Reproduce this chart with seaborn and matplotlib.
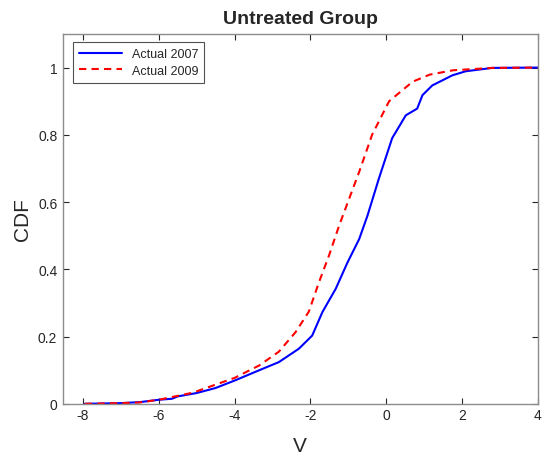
import matplotlib
matplotlib.use("Agg")
import matplotlib.pyplot as plt
import seaborn as sns
import pandas as pd

sns.set_style("white")
plt.rcParams['font.family'] = ['Liberation Sans', 'DejaVu Sans']

x_2007 = [-7.95, -7.0, -6.5, -6.0, -5.65, -5.5, -5.0, -4.5, -4.0, -3.43, -2.83, -2.30,
          -1.95, -1.68, -1.33, -1.02, -0.71, -0.49, -0.19, 0.16, 0.52, 0.82, 0.96,
          1.22, 1.75, 2.1, 2.8, 4.0]
y_2007 = [0.0, 0.002, 0.005, 0.012, 0.015, 0.022, 0.032, 0.047, 0.069, 0.096, 0.124, 0.164,
          0.203, 0.273, 0.342, 0.42, 0.49, 0.56, 0.67, 0.79, 0.858, 0.878, 0.918,
          0.947, 0.977, 0.989, 0.999, 1.0]
x_2009 = [-7.95, -7.0, -6.5, -6.0, -5.1, -4.0, -3.35, -2.83, -2.39, -2.04, -1.77, -1.51,
          -1.24, -0.71, -0.37, 0.08, 0.7, 1.15, 1.77, 2.8, 4.0]
y_2009 = [0.0, 0.002, 0.004, 0.012, 0.033, 0.077, 0.114, 0.155, 0.213, 0.274, 0.362, 0.44,
          0.53, 0.69, 0.80, 0.90, 0.958, 0.979, 0.992, 0.999, 1.0]
series_labels = ["Actual 2007", "Actual 2009"]
x_ticks = [-8, -6, -4, -2, 0, 2, 4]
y_ticks = [0, 0.2, 0.4, 0.6, 0.8, 1.0]
y_tick_labels = ["0", "0.2", "0.4", "0.6", "0.8", "1"]

df07 = pd.DataFrame({"V": x_2007, "CDF": y_2007})
df09 = pd.DataFrame({"V": x_2009, "CDF": y_2009})

fig = plt.figure(figsize=(5.42, 4.6), dpi=100)
ax = fig.add_axes([0.116, 0.12, 0.876, 0.804])
sns.lineplot(data=df07, x="V", y="CDF", ax=ax, color="#0000ff", lw=1.5,
             label=series_labels[0], sort=False, estimator=None)
sns.lineplot(data=df09, x="V", y="CDF", ax=ax, color="#ff0000", lw=1.5,
             linestyle=(0, (3.5, 2.5)), label=series_labels[1], sort=False, estimator=None)

ax.set_xlim(-8.53, 4)
ax.set_ylim(0, 1.1)
ax.set_xticks(x_ticks)
ax.set_xticklabels([str(t) for t in x_ticks])
ax.set_yticks(y_ticks)
ax.set_yticklabels(y_tick_labels)
ax.tick_params(direction="in", length=4, labelsize=10, colors="#262626",
               top=True, right=True, bottom=True, left=True,
               labeltop=False, labelright=False)
ax.tick_params(axis="x", pad=3)
ax.tick_params(axis="y", pad=4)
for s in ax.spines.values():
    s.set_color("#8c8c8c")
    s.set_linewidth(1.0)
ax.set_xlabel("V", fontsize=15, color="#262626", labelpad=10)
ax.set_ylabel("CDF", fontsize=15, color="#262626", labelpad=4)
ax.set_title("Untreated Group", fontsize=14, fontweight="bold", pad=8)
leg = ax.legend(loc="upper left", fontsize=9, frameon=True, fancybox=False,
                edgecolor="#262626", handlelength=3.4, borderpad=0.5,
                labelspacing=0.35, bbox_to_anchor=(0.021, 0.978), borderaxespad=0)
leg.get_frame().set_linewidth(0.8)
fig.savefig("out.png", dpi=100)
